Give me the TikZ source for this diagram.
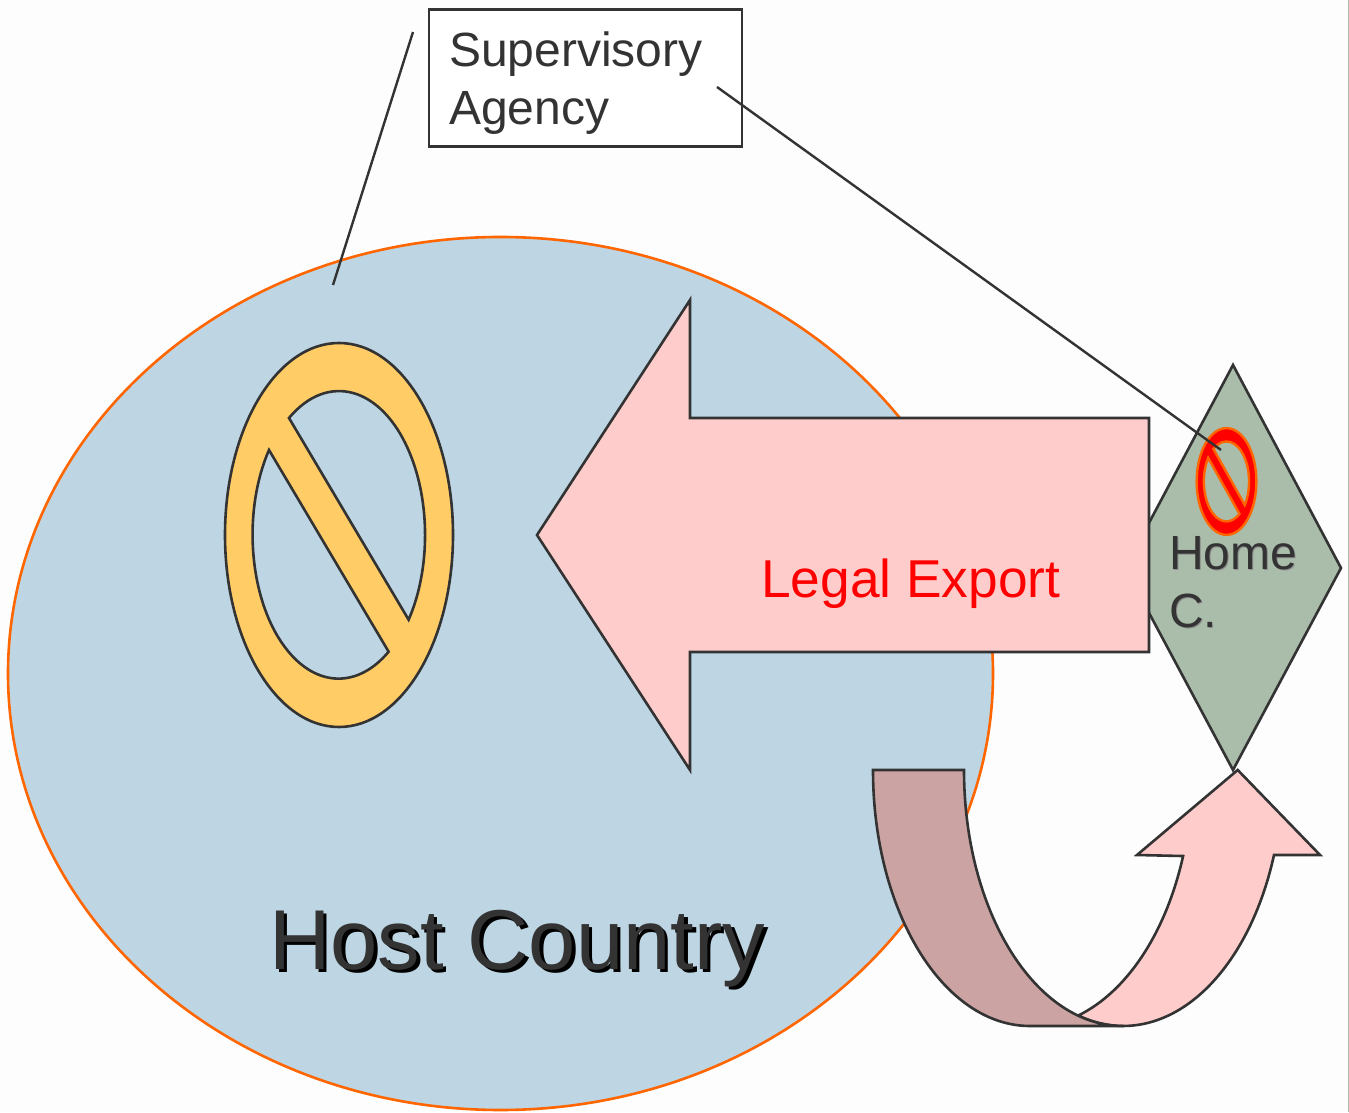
\documentclass[tikz,border=0pt]{standalone}
\usepackage{fontspec}
\setmainfont{Liberation Sans}
\definecolor{ink}{HTML}{333333}
\definecolor{hostfill}{HTML}{BED6E4}
\definecolor{edgeorange}{HTML}{FF6600}
\definecolor{signgold}{HTML}{FFCC66}
\definecolor{pinkfill}{HTML}{FFCCCC}
\definecolor{sage}{HTML}{AABDAA}
\definecolor{brownfill}{HTML}{CCA3A3}
\definecolor{paper}{HTML}{FDFDFD}
\newcommand{\banshape}{(0,0) ellipse [x radius=114pt,y radius=192pt]
  (-50,117) arc [start angle=125.6,end angle=-36,x radius=86pt,y radius=144pt] -- cycle
  (-70,85) arc [start angle=144,end angle=305.6,x radius=86pt,y radius=144pt] -- cycle}
\tikzset{
  shape line/.style={draw=ink,line width=2.6pt,line join=miter},
  leader/.style={draw=ink,line width=2.4pt},
  label text/.style={anchor=base west,inner sep=0pt,align=left,text=ink,font=\fontsize{48}{58}\selectfont},
  host text/.style={anchor=base west,inner sep=0pt,font=\fontsize{85}{100}\selectfont},
}
\begin{document}
\begin{tikzpicture}[x=1pt,y=1pt]
\useasboundingbox (0,0) rectangle (1349,1112);
\fill[paper] (0,0) rectangle (1349,1112);
\fill[sage] (1348,0) rectangle (1349,1112);
% host country
\path[fill=hostfill,draw=edgeorange,line width=2.6pt] (500.5,1112-673.5) ellipse [x radius=492.5pt,y radius=436.5pt];
% large prohibition sign
\path[shape line,fill=signgold,even odd rule,shift={(339,1112-535)}] \banshape;
% diamond
\path[shape line,fill=sage] (1233,1112-365) -- (1341,1112-568) -- (1233,1112-770) -- (1125,1112-568) -- cycle;
% small sign
\path[draw=edgeorange,line width=2.4pt,fill=red,even odd rule,shift={(1226.5,1112-481.5)},xscale=0.262,yscale=0.278] \banshape;
% big arrow
\path[shape line,fill=pinkfill] (537,1112-535) -- (690,1112-300) -- (690,1112-418) -- (1149,1112-418) -- (1149,1112-652) -- (690,1112-652) -- (690,1112-770) -- cycle;
% curved arrow
\path[shape line,fill=pinkfill] (1237.7,1112-770) -- (1320,1112-855) -- (1274,1112-855)
  arc [start angle=-19.4,end angle=-90,x radius=160pt,y radius=256pt]
  arc [start angle=-90,end angle=-106.4,x radius=159pt,y radius=256pt]
  arc [start angle=-72.8,end angle=-19.4,x radius=162pt,y radius=256pt]
  -- (1137,1112-855) -- cycle;
\path[shape line,fill=brownfill] (873,1112-770)
  arc [start angle=180,end angle=270,x radius=157pt,y radius=256pt]
  -- (1123,1112-1026)
  arc [start angle=270,end angle=180,x radius=159pt,y radius=256pt]
  -- cycle;
% supervisory box
\node[draw=ink,line width=2.4pt,fill=white,minimum width=313pt,minimum height=137pt,inner sep=0pt,anchor=north west] (agencybox) at (427.5,1112-8.5) {};
\coordinate (hostend) at (333,1112-285);
\coordinate (hostfree) at (413,1112-32);
\coordinate (homefree) at (717,1112-87);
\coordinate (homeend) at (1221,1112-450);
\draw[leader] (hostfree) -- (hostend);
\draw[leader] (homefree) -- (homeend);
% texts
\node[label text] (agencya) at (449,1112-67) {Supervisory};
\node[label text] (agencyb) at (449,1112-125) {Agency};
\node[label text,text=red,font=\fontsize{53.3}{60}\selectfont] (legal) at (761,1112-598) {Legal Export};
\node[label text,text=black!45] (homeas) at (1170,1112-571) {Home};
\node[label text,text=black!45] (homebs) at (1170,1112-629) {C.};
\node[label text] (homea) at (1169,1112-570) {Home};
\node[label text] (homeb) at (1169,1112-628) {C.};
\node[host text,text=black] (hostshadow) at (272.5,1112-972.5) {Host Country};
\node[host text,text=ink] (hostlabel) at (269,1112-969) {Host Country};
\end{tikzpicture}
\end{document}
